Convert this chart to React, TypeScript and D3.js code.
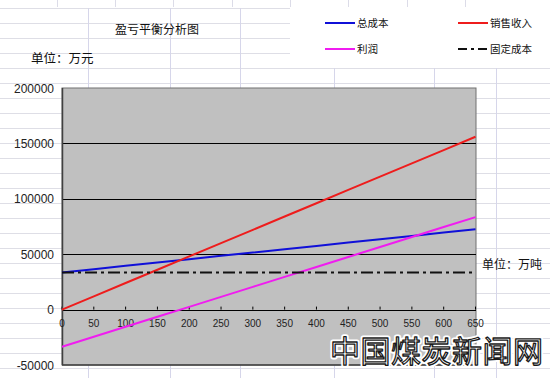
import React from "react";
import * as d3 from "d3";

const quantities = [0, 50, 100, 150, 200, 250, 300, 350, 400, 450, 500, 550, 600, 650];
const totalCost = [33500, 36500, 39500, 42500, 45500, 48500, 51500, 54500, 57500, 60500, 63500, 66500, 69500, 72500];
const revenue = [0, 12000, 24000, 36000, 48000, 60000, 72000, 84000, 96000, 108000, 120000, 132000, 144000, 156000];
const profit = [-33500, -24500, -15500, -6500, 2500, 11500, 20500, 29500, 38500, 47500, 56500, 65500, 74500, 83500];
const fixedCost = [33500, 33500, 33500, 33500, 33500, 33500, 33500, 33500, 33500, 33500, 33500, 33500, 33500, 33500];
const yTicks = [-50000, 0, 50000, 100000, 150000, 200000];
const xTicks = [0, 50, 100, 150, 200, 250, 300, 350, 400, 450, 500, 550, 600, 650];

const seriesList = [
  { name: "总成本", values: totalCost, color: "#1010d8", dash: "" },
  { name: "销售收入", values: revenue, color: "#ee1c1c", dash: "" },
  { name: "利润", values: profit, color: "#f01cf0", dash: "" },
  { name: "固定成本", values: fixedCost, color: "#111111", dash: "12,4,3,4" },
];

const W = 550;
const H = 378;
const PL = 62, PR = 476, PT = 88, PB = 365;

export default function App() {
  const x = d3.scaleLinear().domain([0, 650]).range([PL, 475.5]);
  const y = d3.scaleLinear().domain([-50000, 200000]).range([PB, PT]);
  const line = d3.line<number>().x((_, i) => x(quantities[i])).y((v) => y(v));

  const rows = d3.range(0, 25).map((k) => 8 + 15 * k);
  const cols = [88, 170, 240, 334, 434, 496];
  const topCols = [57, 115, 173, 232, 290, 348, 407, 465];
  const font = "'Liberation Sans', Arial, sans-serif";
  const cjk = "'Noto Sans CJK SC', sans-serif";

  const legend = [
    { s: seriesList[0], lx: 325, ly: 23 },
    { s: seriesList[1], lx: 458, ly: 23 },
    { s: seriesList[2], lx: 325, ly: 49 },
    { s: seriesList[3], lx: 458, ly: 49 },
  ];

  return (
    <svg width={W} height={H} style={{ position: "absolute", left: 0, top: 0, display: "block" }}>
      <rect x={0} y={0} width={W} height={H} fill="#ffffff" />
      {/* spreadsheet grid */}
      {rows.map((r) => (
        <line key={"r" + r} x1={0} x2={W} y1={r + 0.5} y2={r + 0.5} stroke="#dedee6" strokeWidth={1} />
      ))}
      {cols.map((c) => (
        <line key={"c" + c} x1={c + 0.5} x2={c + 0.5} y1={8} y2={H} stroke="#d6d6ea" strokeWidth={1} />
      ))}
      {topCols.map((c) => (
        <line key={"t" + c} x1={c + 0.5} x2={c + 0.5} y1={0} y2={7} stroke="#dcdce8" strokeWidth={1} />
      ))}
      {/* legend area covers grid */}
      <rect x={290} y={8} width={260} height={60} fill="#ffffff" />

      {/* title & units */}
      <text x={157} y={34} textAnchor="middle" fontFamily={cjk} fontSize={12} fill="#111">盈亏平衡分析图</text>
      <text x={31} y={63} fontFamily={cjk} fontSize={12.5} fill="#111">单位：万元</text>
      <text x={482} y={269} fontFamily={cjk} fontSize={12} fill="#111">单位：万吨</text>

      {/* legend */}
      {legend.map(({ s, lx, ly }) => (
        <g key={s.name}>
          <line x1={lx} x2={lx + 30} y1={ly} y2={ly} stroke={s.color} strokeWidth={2} strokeDasharray={s.dash ? "9,4,3,4" : undefined} />
          <text x={lx + 32} y={ly + 4} fontFamily={cjk} fontSize={10.5} fill="#111">{s.name}</text>
        </g>
      ))}

      {/* plot area */}
      <rect x={PL} y={PT} width={PR - PL} height={PB - PT} fill="#c0c0c0" stroke="#707070" strokeWidth={1} />
      {yTicks.filter((t) => t > 0 && t < 200000).map((t) => (
        <line key={"g" + t} x1={PL} x2={PR} y1={Math.round(y(t)) + 0.5} y2={Math.round(y(t)) + 0.5} stroke="#000" strokeWidth={1} />
      ))}
      <line x1={PL} x2={PR} y1={Math.round(y(0)) + 0.5} y2={Math.round(y(0)) + 0.5} stroke="#000" strokeWidth={1} />
      {xTicks.map((t) => (
        <line key={"xt" + t} x1={x(t)} x2={x(t)} y1={y(0) - 3} y2={y(0)} stroke="#000" strokeWidth={1} />
      ))}
      <line x1={PL + 0.5} x2={PL + 0.5} y1={PT} y2={PB} stroke="#404040" strokeWidth={1.5} />
      <line x1={PL} x2={PR} y1={PB} y2={PB} stroke="#404040" strokeWidth={1.5} />

      {/* axis labels */}
      {yTicks.map((t) => (
        <text key={"yl" + t} x={54} y={y(t) + 4.5} textAnchor="end" fontFamily={font} fontSize={12} fill="#222">{t}</text>
      ))}
      {xTicks.map((t) => (
        <text key={"xl" + t} x={x(t)} y={y(0) + 17} textAnchor="middle" fontFamily={font} fontSize={10} fill="#222">{t}</text>
      ))}

      {/* series */}
      {seriesList.map((s) => (
        <path key={s.name} d={line(s.values) || ""} fill="none" stroke={s.color} strokeWidth={2} strokeDasharray={s.dash || undefined} />
      ))}

      {/* watermark */}
      <text x={330} y={362} fontFamily={cjk} fontSize={30} letterSpacing={0.5} fill="#ffffff" stroke="#ffffff" strokeWidth={5} strokeLinejoin="round">中国煤炭新闻网</text>
      <text x={330} y={362} fontFamily={cjk} fontSize={30} letterSpacing={0.5} fill="#ffffff" stroke="#1a1a1a" strokeWidth={1.3} strokeLinejoin="round">中国煤炭新闻网</text>
    </svg>
  );
}
